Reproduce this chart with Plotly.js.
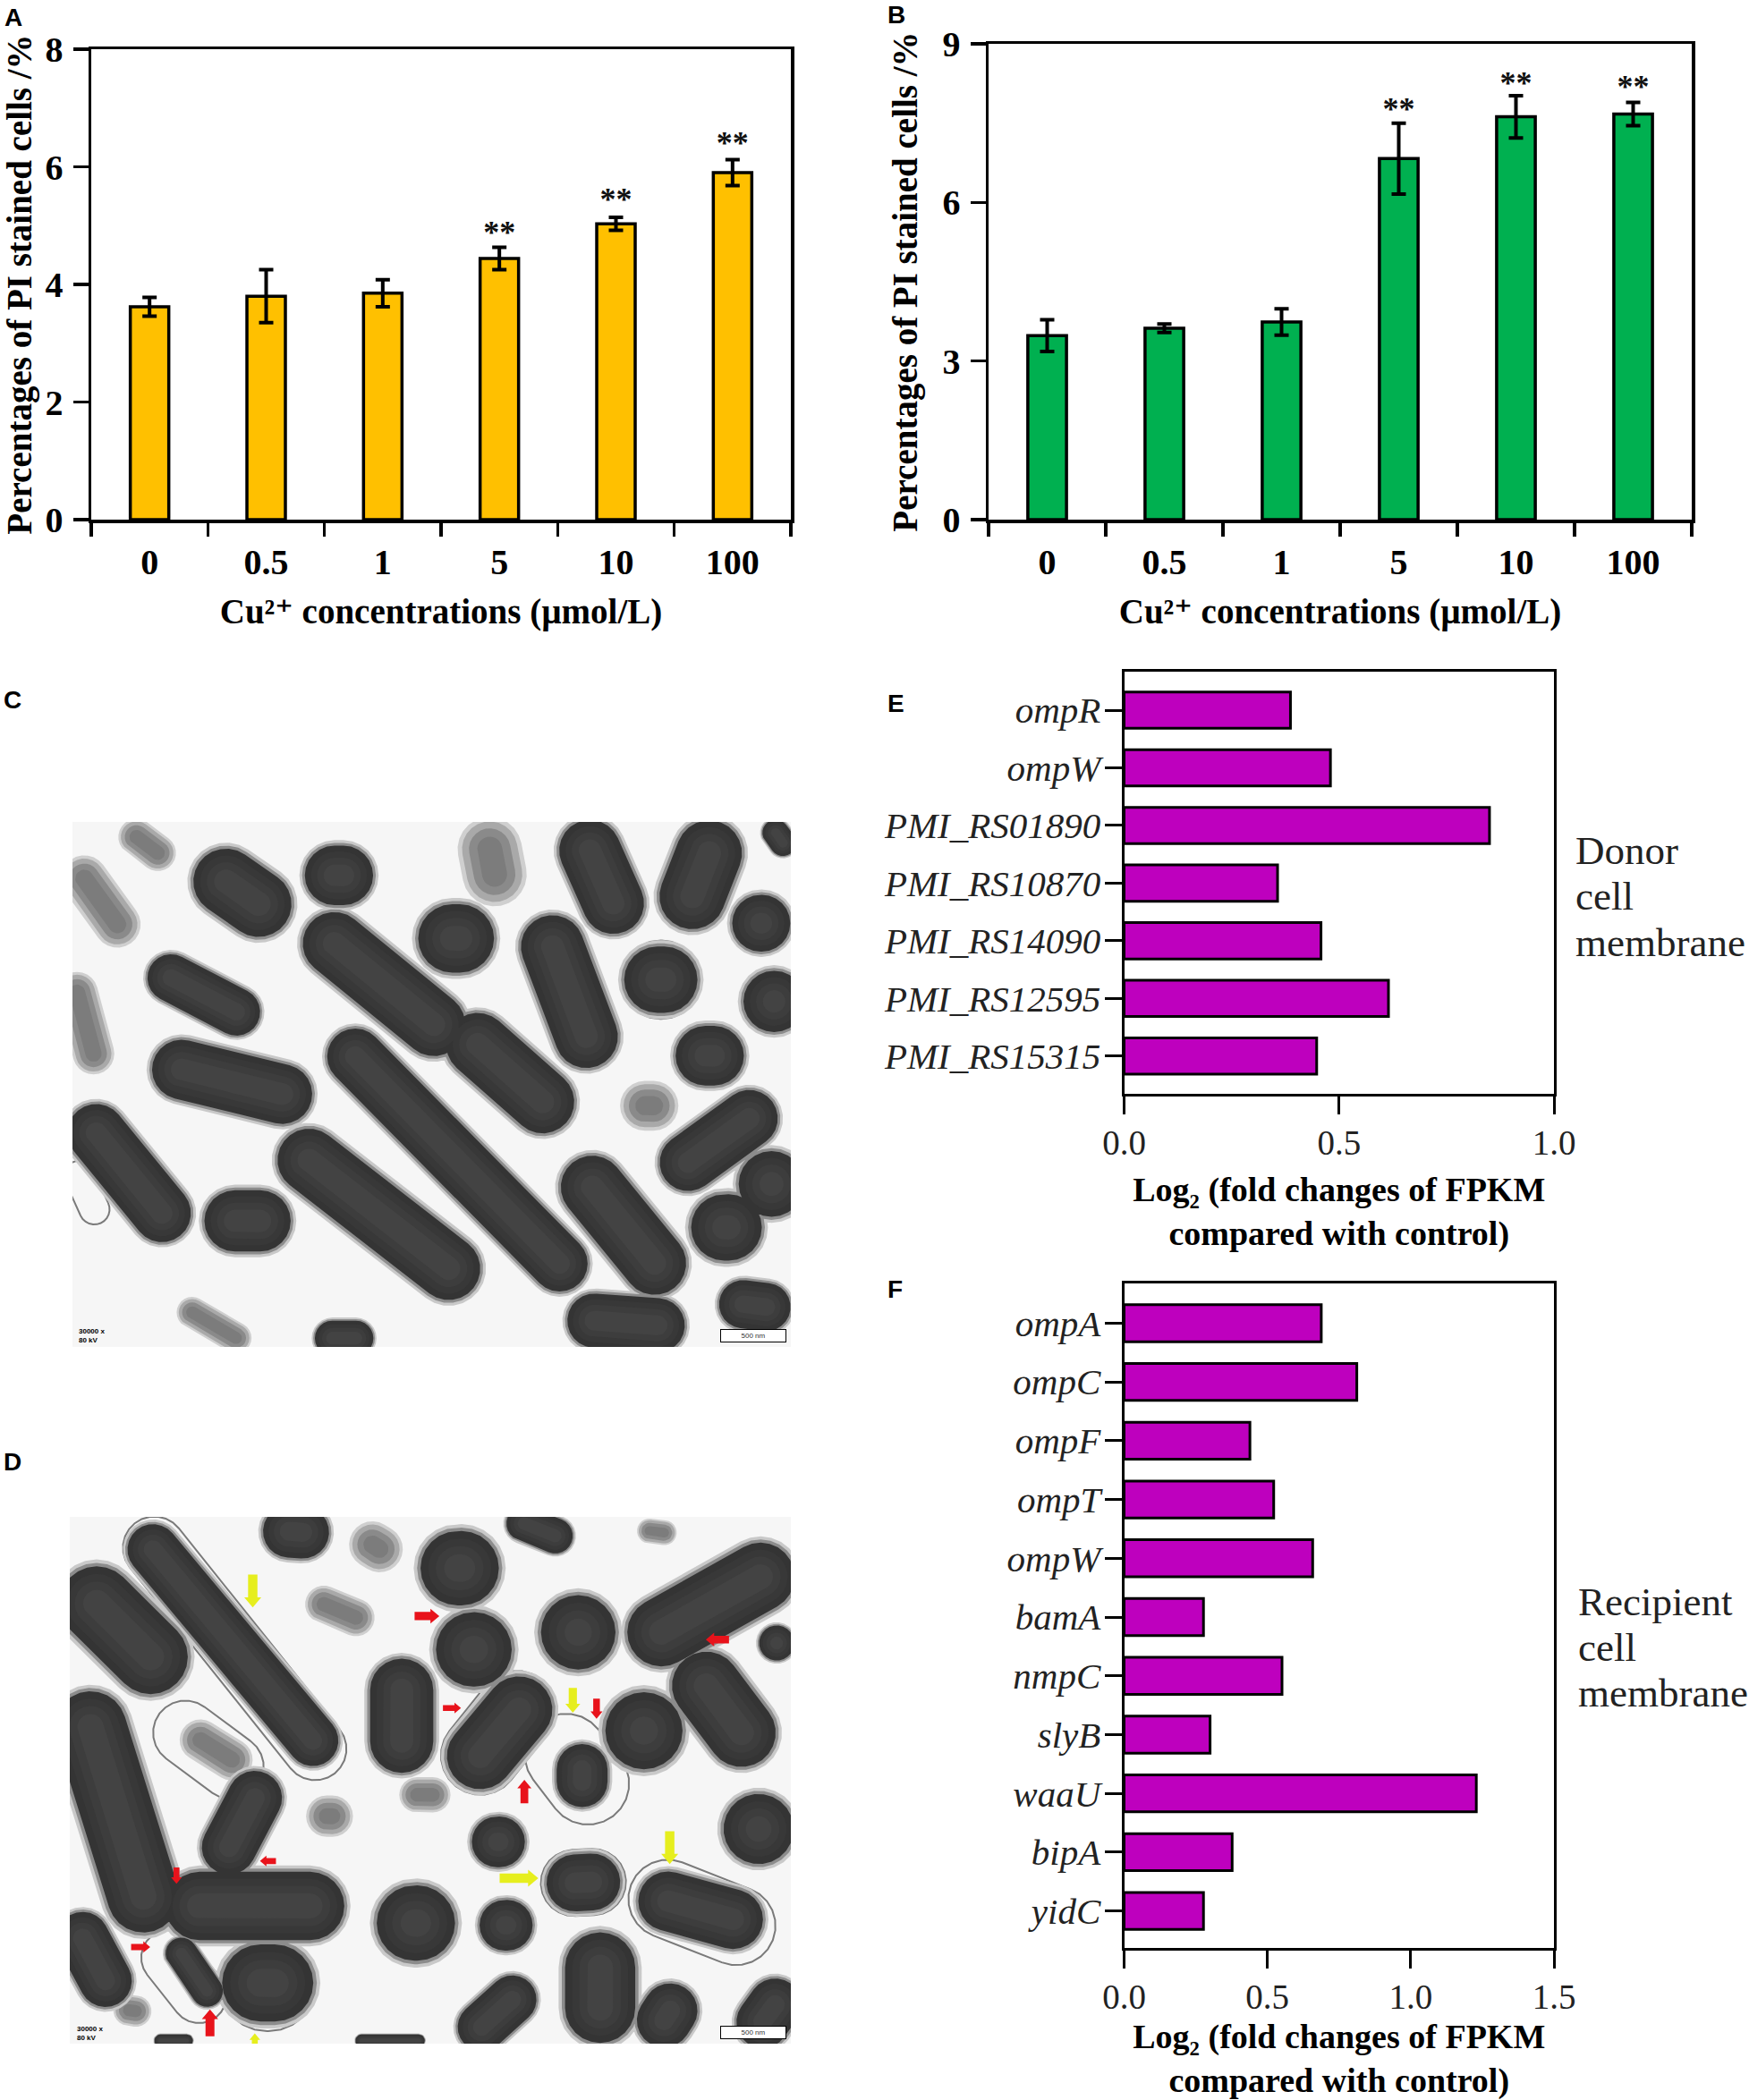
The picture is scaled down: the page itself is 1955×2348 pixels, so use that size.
<!DOCTYPE html>
<html>
<head>
<meta charset="utf-8">
<script src="https://cdn.plot.ly/plotly-3.0.1.min.js"></script>
<style>body{margin:0;background:#fff}</style>
</head>
<body>
<div id="plot"></div>
<script>
const W = 1955, H = 2348;
const SERIF = '"Liberation Serif", "DejaVu Serif", serif';
const SANS = '"Liberation Sans", Arial, sans-serif';

// bar panels A, B
const concentrations = ['0', '0.5', '1', '5', '10', '100'];
const pctA = [3.62, 3.80, 3.85, 4.44, 5.03, 5.90];
const errA = [0.16, 0.45, 0.23, 0.19, 0.11, 0.22];
const pctB = [3.48, 3.62, 3.74, 6.83, 7.62, 7.67];
const errB = [0.30, 0.08, 0.25, 0.67, 0.40, 0.22];
const starCats = ['5', '10', '100'];
const starYA = [4.84, 5.40, 6.36];
const starYB = [7.72, 8.21, 8.13];

// gene panels E, F
const genesE = ['ompR', 'ompW', 'PMI_RS01890', 'PMI_RS10870', 'PMI_RS14090', 'PMI_RS12595', 'PMI_RS15315'];
const foldE = [0.387, 0.48, 0.85, 0.357, 0.458, 0.615, 0.448];
const genesF = ['ompA', 'ompC', 'ompF', 'ompT', 'ompW', 'bamA', 'nmpC', 'slyB', 'waaU', 'bipA', 'yidC'];
const foldF = [0.688, 0.812, 0.439, 0.522, 0.658, 0.277, 0.551, 0.30, 1.229, 0.377, 0.277];

// micrographs: rough cell outlines, tip to tip [x1, y1, x2, y2, width]
const darkCellsC = [
  [385,420,555,560,75],[590,450,725,450,68],[1120,327,1215,580,70],[1400,327,1320,570,75],
  [1490,327,1535,400,30],[1420,560,1535,560,65],[600,560,890,840,72],[880,790,1100,1020,72],
  [810,595,960,595,78],[1050,545,1160,890,72],[1210,690,1355,690,76],[1470,740,1535,740,70],
  [1310,865,1445,865,68],[1290,1150,1500,970,65],[1460,1160,1535,1160,75],[1340,1260,1480,1260,76],
  [295,880,605,970,68],[650,820,1125,1390,64],[150,990,350,1280,66],[395,1245,565,1245,70],
  [550,1060,920,1400,72],[1110,1110,1310,1400,72],[1100,1470,1330,1490,62],[1395,1430,1535,1450,55],
  [610,1515,725,1515,40],[290,660,500,790,54]
];
const greyCellsC = [
  [240,340,330,420,35],[940,327,970,510,62],[140,420,250,600,45],
  [1210,980,1310,980,48],[350,1440,480,1530,30],[140,680,190,900,40]
];
const ringsC = [[1205,690,1360,690,88],[140,1110,195,1250,34]];
const darkCellsD = [
  [136,340,345,590,85],[265,230,640,770,58],[510,230,640,240,60],[815,320,970,320,85],
  [845,510,995,510,85],[1055,470,1190,470,85],[1225,510,1535,300,78],[1480,500,1535,490,40],
  [1330,530,1480,770,78],[780,530,780,800,72],[890,820,1050,590,76],[1180,700,1320,700,88],
  [1130,730,1130,880,58],[155,610,300,1170,82],[520,800,420,1030,62],[915,960,1020,960,58],
  [930,1155,1035,1155,58],[1060,1060,1205,1050,65],[1240,1080,1480,1160,68],[1410,960,1535,900,80],
  [320,1110,670,1110,78],[730,1150,885,1150,86],[136,1130,230,1340,60],[335,1190,420,1340,36],
  [430,1290,610,1290,88],[1165,1170,1165,1432,80],[900,1432,1030,1290,55],[1260,1432,1330,1300,62],
  [1450,1432,1535,1290,60],[690,1425,825,1425,14],[300,1425,375,1425,14],[985,200,1110,260,40]
];
const greyCellsD = [
  [690,240,770,300,45],[780,850,870,850,34],[600,900,680,900,40],[225,1350,290,1360,30],
  [600,390,720,450,36],[1240,230,1310,240,24],[360,700,480,790,40]
];
const ringsD = [
  [1050,680,1190,900,92],[295,1180,420,1370,62],[425,1290,615,1290,108],[310,660,500,830,72],
  [1225,1060,1500,1190,88],[1050,1060,1215,1050,74],[885,830,1050,580,88],[262,215,650,800,70]
];
const redArrowsD = [
  [805,432,853,432],[860,647,895,647],[1158,625,1158,672],[1018,870,1018,815],[1415,487,1370,487],
  [536,1005,505,1005],[343,1020,343,1058],[255,1206,292,1206],[408,1415,408,1352]
];
const yellowArrowsD = [
  [491,335,491,412],[1112,600,1112,658],[1300,935,1300,1012],[970,1045,1045,1045],[495,1432,495,1408]
];

const domX = (a, b) => [a / W, b / W];
const domY = (a, b) => [1 - b / H, 1 - a / H];
const pxX = v => v / W;
const pxY = v => 1 - v / H;

// polygon for a rounded cell, worked out in screen pixels
function capsule(c, sx, sy, scale) {
  const x1 = c[0] / sx, y1 = c[1] / sy, x2 = c[2] / sx, y2 = c[3] / sy;
  const r = c[4] * scale / 2;
  const len = Math.hypot(x2 - x1, y2 - y1) || 1;
  const ux = (x2 - x1) / len, uy = (y2 - y1) / len;
  const inset = Math.min(c[4] / 2, len / 2);
  const ax = x1 + ux * inset, ay = y1 + uy * inset, bx = x2 - ux * inset, by = y2 - uy * inset;
  const base = Math.atan2(uy, ux);
  const xs = [], ys = [];
  for (let i = 0; i <= 12; i++) {
    const t = base - Math.PI / 2 + Math.PI * i / 12;
    xs.push((bx + r * Math.cos(t)) * sx); ys.push((by + r * Math.sin(t)) * sy);
  }
  for (let i = 0; i <= 12; i++) {
    const t = base + Math.PI / 2 + Math.PI * i / 12;
    xs.push((ax + r * Math.cos(t)) * sx); ys.push((ay + r * Math.sin(t)) * sy);
  }
  xs.push(xs[0]); ys.push(ys[0]);
  return [xs, ys];
}

function arrowShape(a, sx, sy) {
  const x1 = a[0] / sx, y1 = a[1] / sy, x2 = a[2] / sx, y2 = a[3] / sy;
  const len = Math.hypot(x2 - x1, y2 - y1);
  const ux = (x2 - x1) / len, uy = (y2 - y1) / len;
  const nx = -uy, ny = ux;
  const hw = Math.max(6, Math.min(9.5, len * 0.3)), tw = hw * 0.55, head = hw * 1.2;
  const mx = x2 - ux * head, my = y2 - uy * head;
  const pts = [
    [x1 + nx * tw, y1 + ny * tw], [mx + nx * tw, my + ny * tw], [mx + nx * hw, my + ny * hw],
    [x2, y2], [mx - nx * hw, my - ny * hw], [mx - nx * tw, my - ny * tw], [x1 - nx * tw, y1 - ny * tw]
  ];
  return [pts.map(p => p[0] * sx), pts.map(p => p[1] * sy)];
}

function polyTrace(items, build, ax, color) {
  let x = [], y = [];
  items.forEach(it => {
    const p = build(it);
    x = x.concat(p[0], [null]);
    y = y.concat(p[1], [null]);
  });
  return {
    x, y, xaxis: 'x' + ax, yaxis: 'y' + ax, type: 'scatter', mode: 'lines', fill: 'toself',
    fillcolor: color, line: { width: 0 }, hoverinfo: 'skip', showlegend: false
  };
}

function ringTrace(items, ax, sx, sy) {
  const t = polyTrace(items, c => capsule(c, sx, sy, 1), ax, 'rgba(0,0,0,0)');
  t.fill = 'none';
  t.line = { width: 2, color: '#7a7a7a' };
  return t;
}

function micrograph(dark, grey, rings, ax, sx, sy) {
  return [
    polyTrace(grey, c => capsule(c, sx, sy, 1.16), ax, '#cfcfcf'),
    polyTrace(grey, c => capsule(c, sx, sy, 1.0), ax, '#a9a9a9'),
    polyTrace(grey, c => capsule(c, sx, sy, 0.75), ax, '#8a8a8a'),
    polyTrace(grey, c => capsule(c, sx, sy, 0.45), ax, '#7c7c7c'),
    ringTrace(rings, ax, sx, sy),
    polyTrace(dark, c => capsule(c, sx, sy, 1.16), ax, '#c9c9c9'),
    polyTrace(dark, c => capsule(c, sx, sy, 1.07), ax, '#8c8c8c'),
    polyTrace(dark, c => capsule(c, sx, sy, 0.98), ax, '#343434'),
    polyTrace(dark, c => capsule(c, sx, sy, 0.78), ax, '#383838'),
    polyTrace(dark, c => capsule(c, sx, sy, 0.58), ax, '#3d3d3d'),
    polyTrace(dark, c => capsule(c, sx, sy, 0.36), ax, '#434343')
  ];
}

function barPanel(vals, errs, color, ax) {
  return {
    x: concentrations, y: vals, xaxis: 'x' + ax, yaxis: 'y' + ax, type: 'bar', width: 0.33,
    marker: { color, line: { color: '#000', width: 3.5 } },
    error_y: { type: 'data', array: errs, visible: true, color: '#000', thickness: 4, width: 8 },
    hoverinfo: 'skip', showlegend: false
  };
}
function starTrace(ys, ax) {
  return {
    x: starCats, y: ys, text: starCats.map(() => '**'), xaxis: 'x' + ax, yaxis: 'y' + ax, type: 'scatter', mode: 'text',
    textposition: 'middle center', textfont: { family: SERIF, size: 36, color: '#111', weight: 700 },
    hoverinfo: 'skip', showlegend: false, cliponaxis: false
  };
}
function genePanel(vals, genes, ax) {
  return {
    x: vals, y: genes.map((g, i) => i), xaxis: 'x' + ax, yaxis: 'y' + ax, type: 'bar', orientation: 'h', width: 0.63,
    marker: { color: '#BE00BE', line: { color: '#000', width: 3 } }, hoverinfo: 'skip', showlegend: false
  };
}

const data = [
  barPanel(pctA, errA, '#FFC000', ''), starTrace(starYA, ''),
  barPanel(pctB, errB, '#00B050', '2'), starTrace(starYB, '2'),
  genePanel(foldE, genesE, '3'), genePanel(foldF, genesF, '4'),
  ...micrograph(darkCellsC, greyCellsC, ringsC, '5', 1.737, 2.057),
  ...micrograph(darkCellsD, greyCellsD, ringsD, '6', 1.737, 2.09),
  polyTrace(redArrowsD, a => arrowShape(a, 1.737, 2.09), '6', '#E8131B'),
  polyTrace(yellowArrowsD, a => arrowShape(a, 1.737, 2.09), '6', '#E6EE1E')
];

const line = { showline: true, linecolor: '#000', mirror: true, showgrid: false, zeroline: false, ticks: 'outside', tickcolor: '#000' };
const boldTick = { family: SERIF, size: 40, color: '#000', weight: 700 };
const plainTick = { family: SERIF, size: 39, color: '#222' };

function concAxis(dom, anchor) {
  return {
    ...line, domain: dom, anchor, type: 'category', range: [-0.5, 5.5], categoryorder: 'array', categoryarray: concentrations,
    tickson: 'boundaries', ticklen: 15, tickwidth: 3.5, linewidth: 3.5, tickfont: boldTick, ticklabelstandoff: 9,
    title: { text: 'Cu²⁺ concentrations (µmol/L)', font: { family: SERIF, size: 39, color: '#000', weight: 700 }, standoff: 21 }
  };
}
function pctAxis(dom, anchor, max, dtick) {
  return {
    ...line, domain: dom, anchor, range: [0, max], dtick, ticklen: 17, tickwidth: 3.5, linewidth: 3.5, tickfont: boldTick, ticklabelstandoff: 3,
    title: { text: 'Percentages of PI stained cells /%', font: { family: SERIF, size: 39, color: '#000', weight: 700 }, standoff: 17 }
  };
}
function foldAxis(dom, anchor, max, standoff) {
  return {
    ...line, domain: dom, anchor, range: [0, max], tickvals: Array.from({ length: max * 2 + 1 }, (_, i) => i / 2), tickformat: '.1f',
    ticklen: 20, tickwidth: 3, linewidth: 3, tickfont: plainTick, ticklabelstandoff: -2,
    title: { text: 'Log₂ (fold changes of FPKM<br>compared with control)', font: { family: SERIF, size: 38, color: '#000', weight: 700 }, standoff }
  };
}
function geneAxis(dom, anchor, genes, top, bottom) {
  return {
    ...line, domain: dom, anchor, range: [bottom, top], tickvals: genes.map((g, i) => i), ticktext: genes.map(g => '<i>' + g + '</i>'),
    ticklen: 19, tickwidth: 3, linewidth: 3, tickfont: { family: SERIF, size: 41, color: '#222' }, ticklabelstandoff: -4
  };
}
const hidden = (dom, anchor, range) => ({ domain: dom, anchor, range, visible: false, fixedrange: true });

const letter = (text, x, y) => ({
  text, x: pxX(x), y: pxY(y), xref: 'paper', yref: 'paper', xanchor: 'left', yanchor: 'middle', showarrow: false,
  font: { family: SANS, size: 28, color: '#000', weight: 700 }
});
const sideLine = (text, x, y) => ({
  text, x: pxX(x), y: pxY(y), xref: 'paper', yref: 'paper', xanchor: 'left', yanchor: 'middle', showarrow: false,
  font: { family: SERIF, size: 45, color: '#222' }
});
const stamp = (ax, x, y) => ({
  text: '30000 x<br>80 kV', x, y, xref: 'x' + ax, yref: 'y' + ax, xanchor: 'left', yanchor: 'middle', align: 'left', showarrow: false,
  font: { family: SANS, size: 8, color: '#000', weight: 700 }
});
const scaleBar = (ax, x, y) => ({
  text: '500 nm', x, y, xref: 'x' + ax, yref: 'y' + ax, xanchor: 'center', yanchor: 'middle', showarrow: false, width: 72, height: 13,
  bgcolor: '#fff', bordercolor: '#000', borderwidth: 1, borderpad: 0, font: { family: SANS, size: 8, color: '#333' }
});

const layout = {
  width: W, height: H, margin: { l: 0, r: 0, t: 0, b: 0 }, paper_bgcolor: '#fff', plot_bgcolor: 'rgba(0,0,0,0)', bargap: 0, showlegend: false,
  xaxis: concAxis(domX(102, 884), 'y'),
  yaxis: pctAxis(domY(55, 581), 'x', 8, 2),
  xaxis2: concAxis(domX(1105, 1891), 'y2'),
  yaxis2: pctAxis(domY(49, 581), 'x2', 9, 3),
  xaxis3: foldAxis(domX(1256.5, 1737), 'y3', 1, 19),
  yaxis3: geneAxis(domY(750.5, 1223), 'x3', genesE, -0.675, 6.655),
  xaxis4: foldAxis(domX(1256.5, 1737), 'y4', 1.5, 24),
  yaxis4: geneAxis(domY(1435, 2178), 'x4', genesF, -0.676, 10.63),
  xaxis5: hidden(domX(81, 884), 'y5', [140, 1535]),
  yaxis5: hidden(domY(919, 1506), 'x5', [1535, 327]),
  xaxis6: hidden(domX(78, 884), 'y6', [136, 1535]),
  yaxis6: hidden(domY(1696, 2285), 'x6', [1432, 200]),
  shapes: [
    { type: 'rect', xref: 'x5', yref: 'y5', x0: 140, x1: 1535, y0: 327, y1: 1535, fillcolor: '#f6f6f6', line: { width: 0 }, layer: 'below' },
    { type: 'rect', xref: 'x6', yref: 'y6', x0: 136, x1: 1535, y0: 200, y1: 1432, fillcolor: '#f6f6f6', line: { width: 0 }, layer: 'below' }
  ],
  annotations: [
    letter('A', 3, 19), letter('B', 990, 17), letter('C', 2, 783), letter('D', 2, 1634), letter('E', 990, 786), letter('F', 990, 1441),
    sideLine('Donor', 1759, 951), sideLine('cell', 1759, 1002), sideLine('membrane', 1759, 1054),
    sideLine('Recipient', 1762, 1791), sideLine('cell', 1762, 1842), sideLine('membrane', 1762, 1893),
    stamp('5', 148, 1510), scaleBar('5', 1462, 1509),
    stamp('6', 146, 1408), scaleBar('6', 1462, 1406)
  ]
};

Plotly.newPlot('plot', data, layout, { displayModeBar: false, staticPlot: true });
</script>
</body>
</html>
